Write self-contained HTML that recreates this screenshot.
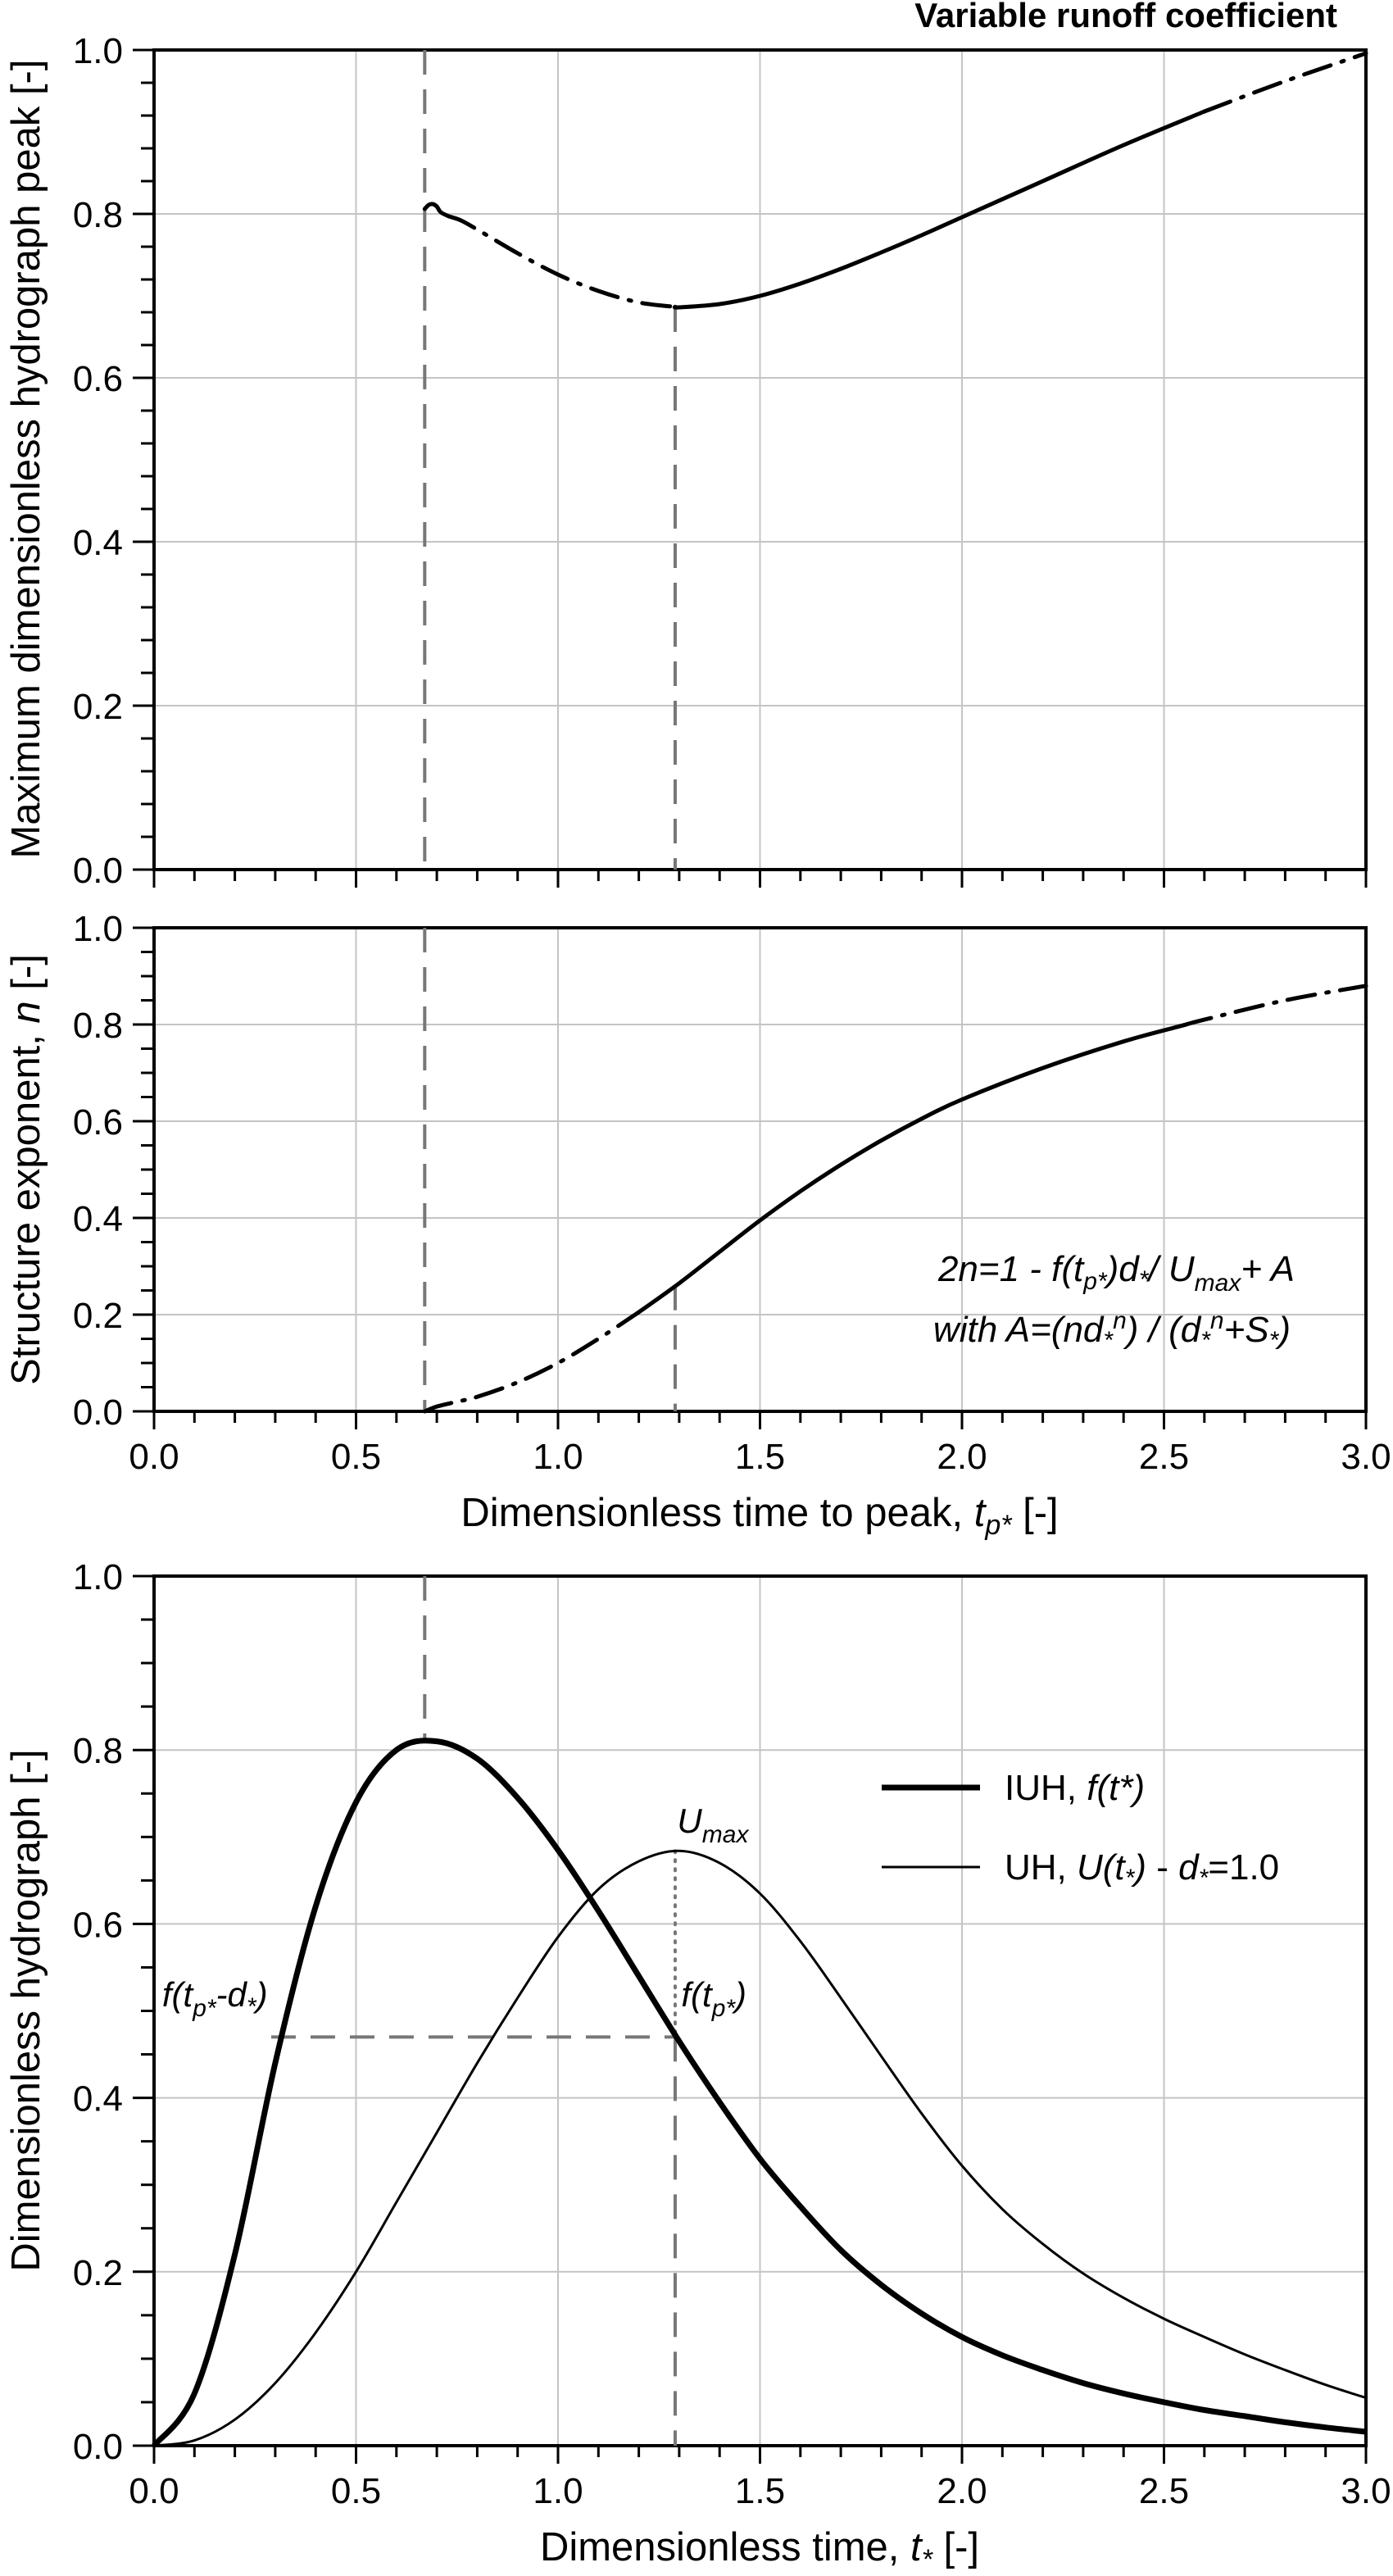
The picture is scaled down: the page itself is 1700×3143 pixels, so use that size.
<!DOCTYPE html>
<html><head><meta charset="utf-8">
<style>
html,body{margin:0;padding:0;background:#fff;}
svg{display:block;font-family:"Liberation Sans",Arial,sans-serif;}
</style></head>
<body>
<svg id="chart" width="1700" height="3143" viewBox="0 0 1700 3143" xmlns="http://www.w3.org/2000/svg">
<text x="1632" y="33" text-anchor="end" font-size="42" font-weight="bold">Variable runoff coefficient</text>
<g id="layer"></g>
</svg>
<script>
// ---- data ----
const xTicks = [0.0, 0.5, 1.0, 1.5, 2.0, 2.5, 3.0];
const yTicks = [0.0, 0.2, 0.4, 0.6, 0.8, 1.0];
const peakTpX = [0.67, 0.68, 0.69, 0.70, 0.71, 0.73, 0.76, 0.8, 0.9, 1.0, 1.1, 1.2, 1.3, 1.4, 1.5, 1.6, 1.7, 1.8, 1.9, 2.0, 2.2, 2.4, 2.6, 2.8, 3.0];
const peakUmax = [0.806, 0.811, 0.812, 0.809, 0.802, 0.797, 0.792, 0.781, 0.752, 0.726, 0.706, 0.692, 0.686, 0.690, 0.700, 0.715, 0.733, 0.753, 0.774, 0.796, 0.840, 0.884, 0.925, 0.962, 0.996];
const nTpX = [0.67, 0.7, 0.75, 0.8, 0.9, 1.0, 1.1, 1.2, 1.3, 1.4, 1.5, 1.6, 1.7, 1.8, 1.9, 2.0, 2.2, 2.4, 2.6, 2.8, 3.0];
const nValues = [0, 0.01, 0.02, 0.03, 0.06, 0.10, 0.15, 0.205, 0.265, 0.33, 0.395, 0.455, 0.51, 0.56, 0.605, 0.645, 0.71, 0.765, 0.81, 0.85, 0.88];
const iuhX = [0, 0.1, 0.2, 0.3, 0.4, 0.5, 0.6, 0.7, 0.8, 0.9, 1.0, 1.1, 1.2, 1.3, 1.4, 1.5, 1.6, 1.7, 1.8, 1.9, 2.0, 2.1, 2.2, 2.3, 2.4, 2.5, 2.6, 2.7, 2.8, 2.9, 3.0];
const iuhY = [0, 0.06, 0.22, 0.44, 0.62, 0.74, 0.80, 0.81, 0.79, 0.745, 0.685, 0.615, 0.54, 0.465, 0.395, 0.33, 0.275, 0.225, 0.185, 0.152, 0.125, 0.104, 0.087, 0.072, 0.06, 0.05, 0.041, 0.034, 0.027, 0.021, 0.016];
const uhX = [0, 0.1, 0.2, 0.3, 0.4, 0.5, 0.6, 0.7, 0.8, 0.9, 1.0, 1.1, 1.2, 1.3, 1.4, 1.5, 1.6, 1.7, 1.8, 1.9, 2.0, 2.1, 2.2, 2.3, 2.4, 2.5, 2.6, 2.7, 2.8, 2.9, 3.0];
const uhY = [0, 0.006, 0.03, 0.072, 0.13, 0.20, 0.28, 0.36, 0.44, 0.515, 0.585, 0.64, 0.672, 0.684, 0.67, 0.635, 0.58, 0.515, 0.448, 0.382, 0.322, 0.272, 0.232, 0.198, 0.17, 0.146, 0.125, 0.105, 0.087, 0.07, 0.055];
const tPeakIUH = 0.67, tPeakUH = 1.29, fTp = 0.47, umaxVal = 0.684, nAtTp = 0.26, umaxMin = 0.686, iuhPeak = 0.812, dStarStart = 0.29;

// ---- layout ----
const NS = "http://www.w3.org/2000/svg";
const layer = document.getElementById('layer');
const X0 = 188, X1 = 1667;
const panels = {
  top: {y1: 61, y0: 1061, minor: 0.04},
  mid: {y1: 1132, y0: 1722, minor: 0.05},
  bot: {y1: 1923, y0: 2984, minor: 0.05}
};
function sx(v){ return X0 + (X1 - X0) * v / 3; }
function syf(p){ return v => p.y0 - (p.y0 - p.y1) * v; }
function mk(tag, attrs, parent){
  const e = document.createElementNS(NS, tag);
  for (const k in attrs) e.setAttribute(k, attrs[k]);
  (parent || layer).appendChild(e);
  return e;
}
function smooth(pts){
  if (pts.length < 2) return '';
  let d = 'M' + pts[0][0].toFixed(1) + ',' + pts[0][1].toFixed(1);
  for (let i = 0; i < pts.length - 1; i++){
    const p0 = pts[i-1] || pts[i], p1 = pts[i], p2 = pts[i+1], p3 = pts[i+2] || p2;
    const c1x = p1[0] + (p2[0] - p0[0]) / 6, c1y = p1[1] + (p2[1] - p0[1]) / 6;
    const c2x = p2[0] - (p3[0] - p1[0]) / 6, c2y = p2[1] - (p3[1] - p1[1]) / 6;
    d += 'C' + c1x.toFixed(1) + ',' + c1y.toFixed(1) + ' ' + c2x.toFixed(1) + ',' + c2y.toFixed(1) + ' ' + p2[0].toFixed(1) + ',' + p2[1].toFixed(1);
  }
  return d;
}
function pathFrom(xs, ys, sy){
  return smooth(xs.map((x, i) => [sx(x), sy(ys[i])]));
}
function interp(xs, ys, x){
  for (let i = 1; i < xs.length; i++) if (x <= xs[i]) { const t = (x - xs[i-1]) / (xs[i] - xs[i-1]); return ys[i-1] + t * (ys[i] - ys[i-1]); }
  return ys[ys.length-1];
}
function segPath(xs, ys, sy, a, b){
  const px = [a], py = [interp(xs, ys, a)];
  for (let i = 0; i < xs.length; i++) if (xs[i] > a + 0.005 && xs[i] < b - 0.005) { px.push(xs[i]); py.push(ys[i]); }
  px.push(b); py.push(interp(xs, ys, b));
  return pathFrom(px, py, sy);
}

function drawPanel(key, showXLabels){
  const p = panels[key], sy = syf(p);
  const g = mk('g', {});
  
  
  xTicks.forEach(v => { if (v > 0 && v < 3) {
    const l = mk('line', {x1: sx(v), x2: sx(v), y1: p.y1, y2: p.y0, stroke: '#c4c4c4', 'stroke-width': 2}, g);
    
    
  }});
  yTicks.forEach(v => { if (v > 0 && v < 1) {
    const l = mk('line', {x1: X0, x2: X1, y1: sy(v), y2: sy(v), stroke: '#c4c4c4', 'stroke-width': 2}, g);
    
    
  }});
  const fr = mk('rect', {x: X0, y: p.y1, width: X1 - X0, height: p.y0 - p.y1, fill: 'none', stroke: '#000', 'stroke-width': 4}, g);
  
  
  for (let v = 0; v <= 1.0001; v += p.minor){
    const major = yTicks.some(t => Math.abs(t - v) < 1e-6);
    mk('line', {x1: X0 - (major ? 26 : 16), x2: X0, y1: sy(v), y2: sy(v), stroke: '#000', 'stroke-width': 3}, g);
  }
  yTicks.forEach(v => {
    const t = mk('text', {x: 150, y: sy(v) + 16, 'text-anchor': 'end', 'font-size': 44}, g);
    t.textContent = v.toFixed(1);
    
    
  });
  for (let i = 0; i <= 30; i++){
    const v = i / 10, major = i % 5 === 0;
    mk('line', {x1: sx(v), x2: sx(v), y1: p.y0, y2: p.y0 + (major ? 22 : 14), stroke: '#000', 'stroke-width': 3}, g);
  }
  if (showXLabels) xTicks.forEach(v => {
    const t = mk('text', {x: sx(v), y: p.y0 + 70, 'text-anchor': 'middle', 'font-size': 44}, g);
    t.textContent = v.toFixed(1);
    
    
  });
  return {g, sy};
}
function yTitle(cy, html, name){
  const t = mk('text', {x: 0, y: 0, transform: `translate(48 ${cy}) rotate(-90)`, 'text-anchor': 'middle', 'font-size': 49});
  t.innerHTML = html;
  
  
}
const DASH = '#777';
function vline(x, ya, yb, dash, g, name){
  const l = mk('line', {x1: x, x2: x, y1: ya, y2: yb, stroke: DASH, 'stroke-width': 4, 'stroke-dasharray': dash}, g);
  
  
}
const DD = '34 14 3 14';

// TOP
{
  const {g, sy} = drawPanel('top', false);
  vline(sx(tPeakIUH), panels.top.y1, panels.top.y0, '30 18', g, 'iuh-peak-time-marker');
  vline(sx(tPeakUH), sy(umaxMin), panels.top.y0, '30 18', g, 'min-peak-time-marker');
  [[0.67, 0.73, null], [0.73, 1.29, DD], [1.29, 2.6, null], [2.6, 3.0, DD]].forEach(s => {
    const l = mk('path', {d: segPath(peakTpX, peakUmax, sy, s[0], s[1]), fill: 'none', stroke: '#000', 'stroke-width': 5, 'stroke-linecap': 'round', 'stroke-dasharray': s[2] || 'none'}, g);
    
    
  });
  yTitle(560, 'Maximum dimensionless hydrograph peak [-]', 'top-y-axis-title');
}
// MIDDLE
{
  const {g, sy} = drawPanel('mid', true);
  vline(sx(tPeakIUH), panels.mid.y1, panels.mid.y0, '30 18', g, 'iuh-peak-time-marker');
  vline(sx(tPeakUH), sy(nAtTp), panels.mid.y0, '30 18', g, 'tp-marker');
  [[0.67, 1.2, DD], [1.2, 2.55, null], [2.55, 3.0, DD]].forEach(s => {
    const l = mk('path', {d: segPath(nTpX, nValues, sy, s[0], s[1]), fill: 'none', stroke: '#000', 'stroke-width': 5, 'stroke-linecap': 'round', 'stroke-dasharray': s[2] || 'none'}, g);
    
    
  });
  yTitle(1427, 'Structure exponent, <tspan font-style="italic">n</tspan> [-]', 'mid-y-axis-title');
  const a1 = mk('text', {x: 1580, y: 1563, 'text-anchor': 'end', 'font-size': 44, 'font-style': 'italic'}, g);
  a1.innerHTML = '2n=1 - f(t<tspan font-size="30" dy="10">p*</tspan><tspan dy="-10">)d</tspan><tspan font-size="30" dy="8">*</tspan><tspan dy="-8">/ U</tspan><tspan font-size="30" dy="12">max</tspan><tspan dy="-12">+ A</tspan>';
  
  
  const a2 = mk('text', {x: 1575, y: 1637, 'text-anchor': 'end', 'font-size': 44, 'font-style': 'italic'}, g);
  a2.innerHTML = 'with A=(nd<tspan font-size="30" dy="8">*</tspan><tspan font-size="30" dy="-24">n</tspan><tspan dy="16">) / (d</tspan><tspan font-size="30" dy="8">*</tspan><tspan font-size="30" dy="-24">n</tspan><tspan dy="16">+S</tspan><tspan font-size="30" dy="8">*</tspan><tspan dy="-8">)</tspan>';
  
  
  const xt = mk('text', {x: 927, y: 1862, 'text-anchor': 'middle', 'font-size': 49});
  xt.innerHTML = 'Dimensionless time to peak, <tspan font-style="italic">t</tspan><tspan font-size="34" font-style="italic" dy="10">p*</tspan><tspan dy="-10"> [-]</tspan>';
  
  
}
// BOTTOM
{
  const {g, sy} = drawPanel('bot', true);
  vline(sx(tPeakIUH), panels.bot.y1, sy(iuhPeak), '30 18', g, 'iuh-peak-marker');
  vline(sx(tPeakUH), sy(fTp), panels.bot.y0, '30 18', g, 'tp-marker');
  const dot = mk('line', {x1: sx(tPeakUH), x2: sx(tPeakUH), y1: sy(umaxVal), y2: sy(fTp), stroke: DASH, 'stroke-width': 4, 'stroke-dasharray': '2 9', 'stroke-linecap': 'round'}, g);
  
  
  const hl = mk('line', {x1: sx(dStarStart), x2: sx(tPeakUH), y1: sy(fTp), y2: sy(fTp), stroke: DASH, 'stroke-width': 4, 'stroke-dasharray': '30 18'}, g);
  
  
  const iuh = mk('path', {d: pathFrom(iuhX, iuhY, sy), fill: 'none', stroke: '#000', 'stroke-width': 7, 'stroke-linejoin': 'round'}, g);
  
  
  const uh = mk('path', {d: pathFrom(uhX, uhY, sy), fill: 'none', stroke: '#000', 'stroke-width': 3, 'stroke-linejoin': 'round'}, g);
  
  
  const l1 = mk('text', {x: sx(1.295), y: sy(0.705), 'font-size': 42, 'font-style': 'italic'}, g);
  l1.innerHTML = 'U<tspan font-size="30" dy="12">max</tspan>';
  
  
  const l2 = mk('text', {x: sx(1.305), y: sy(0.505), 'font-size': 42, 'font-style': 'italic'}, g);
  l2.innerHTML = 'f(t<tspan font-size="30" dy="12">p*</tspan><tspan dy="-12">)</tspan>';
  
  
  const l3 = mk('text', {x: sx(0.02), y: sy(0.505), 'font-size': 42, 'font-style': 'italic'}, g);
  l3.innerHTML = 'f(t<tspan font-size="30" dy="12">p*</tspan><tspan dy="-12">-d</tspan><tspan font-size="30" dy="10">*</tspan><tspan dy="-10">)</tspan>';
  
  
  const lg = mk('g', {}, g);
  
  
  mk('line', {x1: 1076, x2: 1196, y1: 2181, y2: 2181, stroke: '#000', 'stroke-width': 7}, lg);
  mk('line', {x1: 1076, x2: 1196, y1: 2278, y2: 2278, stroke: '#000', 'stroke-width': 3}, lg);
  const e1 = mk('text', {x: 1226, y: 2196, 'font-size': 44}, lg);
  e1.innerHTML = 'IUH, <tspan font-style="italic">f(t*)</tspan>';
  
  
  const e2 = mk('text', {x: 1226, y: 2293, 'font-size': 44}, lg);
  e2.innerHTML = 'UH, <tspan font-style="italic">U(t</tspan><tspan font-size="30" font-style="italic" dy="8">*</tspan><tspan font-style="italic" dy="-8">)</tspan> - <tspan font-style="italic">d</tspan><tspan font-size="30" font-style="italic" dy="8">*</tspan><tspan dy="-8">=1.0</tspan>';
  
  
  yTitle(2453, 'Dimensionless hydrograph [-]', 'bot-y-axis-title');
  const xt = mk('text', {x: 927, y: 3124, 'text-anchor': 'middle', 'font-size': 49});
  xt.innerHTML = 'Dimensionless time, <tspan font-style="italic">t</tspan><tspan font-size="34" font-style="italic" dy="10">*</tspan><tspan dy="-10"> [-]</tspan>';
  
  
}
</script>
</body></html>
